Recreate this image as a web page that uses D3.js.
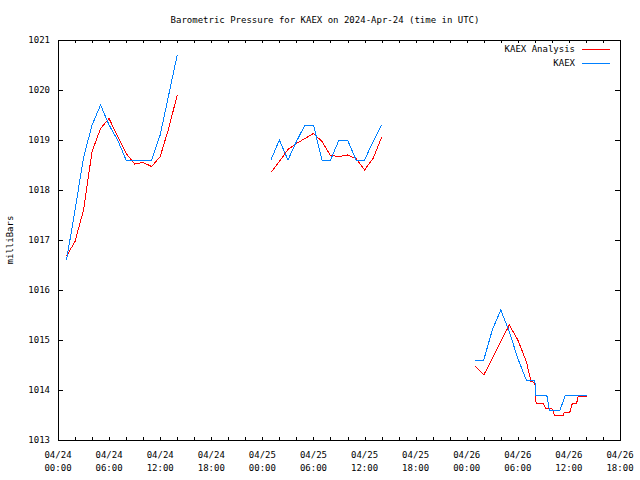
<!DOCTYPE html>
<html><head><meta charset="utf-8">
<script src="https://cdn.jsdelivr.net/npm/d3@7"></script>
<style>
body{margin:0;background:#fff;}
text{font-family:"DejaVu Sans Mono",monospace;font-size:9px;fill:#000;}
</style></head>
<body><svg id="c" width="640" height="480"></svg>
<script>
// hours since 2024-04-24 00:00 UTC
const analysisHours1 = [1,2,3,4,5,6,7,8,9,10,11,12,13,14];
const analysisValues1 = [1016.68,1016.97,1017.6,1018.77,1019.23,1019.43,1019.07,1018.73,1018.52,1018.55,1018.47,1018.67,1019.23,1019.9];
const analysisHours2 = [25,26,27,28,29,30,31,32,33,34,35,36,37,38];
const analysisValues2 = [1018.35,1018.57,1018.81,1018.93,1019.03,1019.13,1018.97,1018.69,1018.67,1018.70,1018.63,1018.40,1018.63,1019.05];
const analysisHours3 = [49,50,51,52,53,54,55,55.55,56.0,56.15,57.0,57.3,58.0,58.3,59.35,59.45,60.1,60.4,60.9,61.1,62.1];
const analysisValues3 = [1014.48,1014.3,1014.63,1014.97,1015.3,1015.0,1014.57,1014.17,1014.15,1013.73,1013.73,1013.63,1013.63,1013.5,1013.5,1013.55,1013.55,1013.73,1013.73,1013.88,1013.88];

const obsHours1 = [1,2,3,4,5,6,7,8,9,10,11,12,13,14];
const obsValues1 = [1016.6,1017.6,1018.65,1019.3,1019.7,1019.3,1019.0,1018.6,1018.6,1018.6,1018.6,1019.1,1019.9,1020.7];
const obsHours2 = [25,26,27,28,29,30,31,32,33,34,35,36,37,38];
const obsValues2 = [1018.6,1019.0,1018.6,1018.97,1019.3,1019.3,1018.6,1018.6,1019.0,1019.0,1018.6,1018.6,1018.97,1019.3];
const obsHours3 = [49,50,51,52,53,54,55,56,56.1,57.4,57.7,58.95,59.6,62.1];
const obsValues3 = [1014.6,1014.6,1015.2,1015.6,1015.17,1014.63,1014.2,1014.2,1013.9,1013.9,1013.6,1013.6,1013.9,1013.9];

const seriesNames = ["KAEX Analysis","KAEX"];
const seriesColors = ["#ff0000","#0080ff"];
const yTicks = [1013,1014,1015,1016,1017,1018,1019,1020,1021];
const titleText = "Barometric Pressure for KAEX on 2024-Apr-24 (time in UTC)";
const yLabel = "milliBars";

const t0 = Date.UTC(2024,3,24,0,0);
const toDate = h => new Date(t0 + h*3600000);

const svg = d3.select("#c");
const L=58, R=620, T=40, B=440;
const x = d3.scaleUtc().domain([toDate(0), toDate(66)]).range([L,R]);
const y = d3.scaleLinear().domain([1013,1021]).range([B,T]);

// title
svg.append("text").attr("x",325).attr("y",23).attr("text-anchor","middle").text(titleText);
svg.append("text").attr("transform","translate(13,240) rotate(-90)").attr("text-anchor","middle").text(yLabel);

const g = svg.append("g").attr("shape-rendering","crispEdges");

// x ticks every 2 hours
const minorTicks = d3.range(0,67,2).map(toDate);
minorTicks.forEach(d=>{
  const xx = Math.round(x(d))+0.5;
  g.append("line").attr("x1",xx).attr("x2",xx).attr("y1",B).attr("y2",B-3).attr("stroke","#000");
  g.append("line").attr("x1",xx).attr("x2",xx).attr("y1",T).attr("y2",T+3).attr("stroke","#000");
});
const fmtD = d3.utcFormat("%m/%d"), fmtT = d3.utcFormat("%H:%M");
d3.range(0,67,6).map(toDate).forEach(d=>{
  const xx = x(d);
  const tx = svg.append("text").attr("x",xx).attr("y",458).attr("text-anchor","middle");
  tx.text(fmtD(d));
  svg.append("text").attr("x",xx).attr("y",471).attr("text-anchor","middle").text(fmtT(d));
});
yTicks.forEach(v=>{
  const yy = Math.round(y(v))+0.5;
  g.append("line").attr("x1",L).attr("x2",L+5).attr("y1",yy).attr("y2",yy).attr("stroke","#000");
  g.append("line").attr("x1",R-5).attr("x2",R).attr("y1",yy).attr("y2",yy).attr("stroke","#000");
  svg.append("text").attr("x",50).attr("y",y(v)+3).attr("text-anchor","end").text(v);
});

// border
g.append("rect").attr("x",L+0.5).attr("y",T+0.5).attr("width",R-L).attr("height",B-T)
  .attr("fill","none").attr("stroke","#000");

const line = d3.line().x(d=>x(toDate(d[0]))).y(d=>y(d[1]));
const zipS = (hs,vs)=>hs.map((h,i)=>[h,vs[i]]);
const analysis = [zipS(analysisHours1,analysisValues1),zipS(analysisHours2,analysisValues2),zipS(analysisHours3,analysisValues3)];
const obs = [zipS(obsHours1,obsValues1),zipS(obsHours2,obsValues2),zipS(obsHours3,obsValues3)];
[analysis, obs].forEach((segs,si)=>{
  segs.forEach(s=>{
    g.append("path").attr("d",line(s)).attr("fill","none").attr("stroke",seriesColors[si]).attr("stroke-width",1);
  });
});

// legend
seriesNames.forEach((n,i)=>{
  const yy = 49 + i*14;
  svg.append("text").attr("x",575).attr("y",yy+3).attr("text-anchor","end").text(n);
  g.append("line").attr("x1",582).attr("x2",610).attr("y1",yy+0.5).attr("y2",yy+0.5).attr("stroke",seriesColors[i]);
});
</script></body></html>
